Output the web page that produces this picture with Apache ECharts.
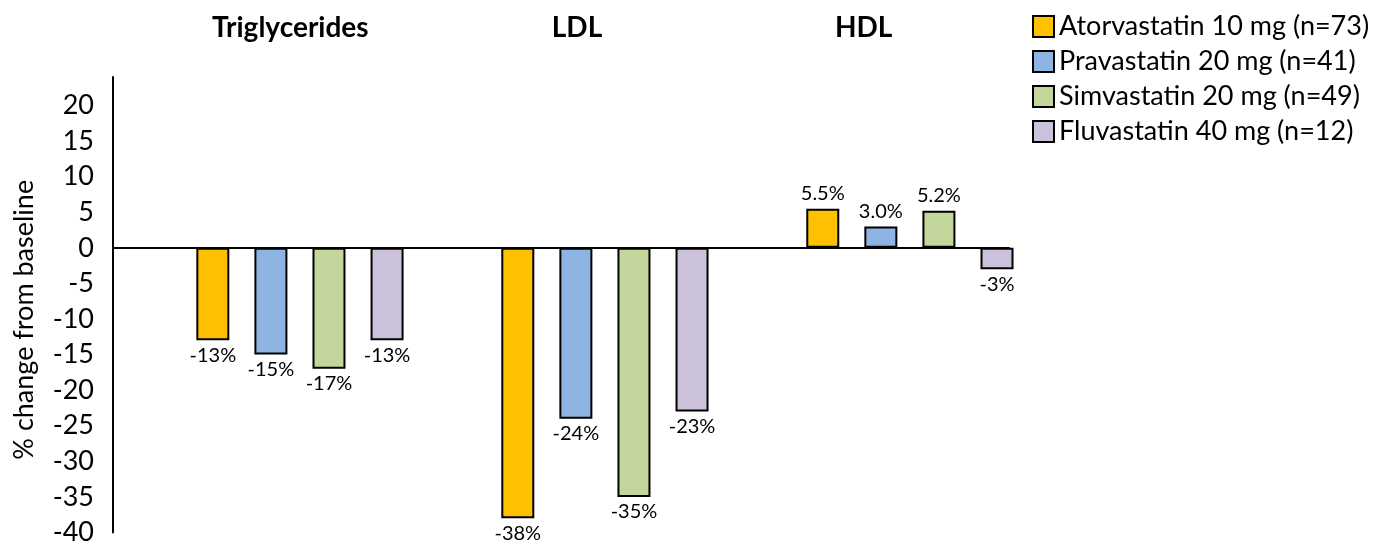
<!DOCTYPE html>
<html>
<head>
<meta charset="utf-8">
<script src="https://cdn.jsdelivr.net/npm/echarts@6/dist/echarts.min.js"></script>
<style>
  html, body { margin: 0; padding: 0; background: #fff; }
  #chart { width: 1389px; height: 546px; }
</style>
</head>
<body>
<div id="chart"></div>
<script>
// Lipid endpoints shown as groups along the horizontal axis
const groups = ['Triglycerides', 'LDL', 'HDL'];

// Treatment arms (legend entries)
const armNames = [
  'Atorvastatin 10 mg (n=73)',
  'Pravastatin 20 mg (n=41)',
  'Simvastatin 20 mg (n=49)',
  'Fluvastatin 40 mg (n=12)'
];

// % change from baseline, per group (Triglycerides, LDL, HDL)
const atorvastatin = [-13, -38, 5.5];
const pravastatin  = [-15, -24, 3.0];
const simvastatin  = [-17, -35, 5.2];
const fluvastatin  = [-13, -23, -3];

// Value axis range and step
const yMin = -40;
const yMax = 24;
const yStep = 5;

const armValues = [atorvastatin, pravastatin, simvastatin, fluvastatin];
const armColors = ['#FFC000', '#8EB4E3', '#C3D69B', '#CCC1DA'];

const FONT = 'Lato, "Liberation Sans", sans-serif';

function fmtPct(v) {
  return (v > 0 ? v.toFixed(1) : String(v)) + '%';
}

const series = armNames.map(function (name, k) {
  return {
    name: name,
    type: 'bar',
    xAxisIndex: 0,
    yAxisIndex: 0,
    barWidth: 33,
    barGap: '76%',
    itemStyle: { color: armColors[k], borderColor: '#000', borderWidth: 2 },
    data: armValues[k].map(function (v, i) {
      return {
        value: [i + 1, v],
        label: { position: v < 0 ? 'bottom' : 'top' }
      };
    }),
    label: {
      show: true,
      distance: 5,
      color: '#000',
      fontFamily: FONT,
      fontSize: 20,
      formatter: function (p) { return fmtPct(p.value[1]); }
    }
  };
});

const chart = echarts.init(document.getElementById('chart'), null, { renderer: 'canvas' });

chart.setOption({
  animation: false,
  backgroundColor: '#fff',
  textStyle: { fontFamily: FONT },
  grid: [
    // plotting area
    { left: 113, right: 380, top: 77, bottom: 11, containLabel: false },
    // band used only for the group headings
    { left: 147, width: 860, top: 77, bottom: 11, containLabel: false }
  ],
  legend: {
    orient: 'vertical',
    left: 1032,
    top: 13,
    padding: 0,
    itemWidth: 21,
    itemHeight: 21,
    itemGap: 8,
    icon: 'rect',
    selectedMode: false,
    itemStyle: { borderColor: '#000', borderWidth: 2 },
    textStyle: { fontFamily: FONT, fontSize: 27, color: '#000' },
    data: armNames
  },
  xAxis: [
    {
      // group positions 1..n on a continuous base axis, line drawn at zero
      type: 'value',
      gridIndex: 0,
      position: 'bottom',
      min: 0.387,
      max: 3.325,
      axisLine: { show: true, onZero: true, lineStyle: { color: '#000', width: 2 } },
      axisTick: { show: false },
      axisLabel: { show: false },
      splitLine: { show: false }
    },
    {
      // group headings along the top
      type: 'category',
      gridIndex: 1,
      position: 'top',
      data: groups,
      axisLine: { show: false, onZero: false },
      axisTick: { show: false },
      splitLine: { show: false },
      axisLabel: {
        show: true,
        margin: 35,
        color: '#000',
        fontFamily: FONT,
        fontWeight: 'bold',
        fontSize: 28
      }
    }
  ],
  yAxis: [
    {
      type: 'value',
      gridIndex: 0,
      min: yMin,
      max: yMax,
      interval: yStep,
      name: '% change from baseline',
      nameLocation: 'middle',
      nameGap: 75,
      nameTextStyle: { fontFamily: FONT, fontSize: 27, color: '#000', padding: [0, 30, 0, 0] },
      axisLine: { show: true, onZero: false, lineStyle: { color: '#000', width: 2 } },
      axisTick: { show: false },
      splitLine: { show: false },
      axisLabel: {
        showMaxLabel: false,
        margin: 19,
        color: '#000',
        fontFamily: FONT,
        fontSize: 27
      }
    },
    {
      type: 'value',
      gridIndex: 1,
      show: false,
      min: yMin,
      max: yMax
    }
  ],
  series: series
});
</script>
</body>
</html>
